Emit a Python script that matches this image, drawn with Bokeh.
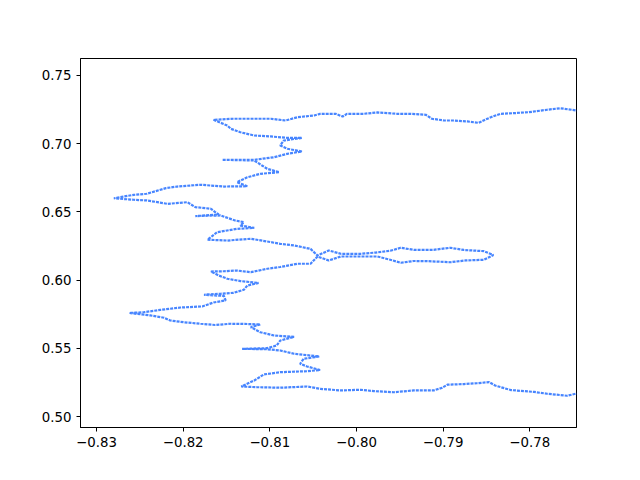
from bokeh.plotting import figure
from bokeh.models import Range1d, FixedTicker, CustomJSTickFormatter
from bokeh.embed import file_html
from bokeh.resources import INLINE

# traced boundary path
xs = [-0.7738, -0.7745, -0.7765, -0.7780, -0.7801, -0.7818, -0.7834, -0.7845, -0.7851, -0.7859,
      -0.7872, -0.7888, -0.7899, -0.7913, -0.7920, -0.7938, -0.7953, -0.7976, -0.7992, -0.8011,
      -0.8016, -0.8024, -0.8042, -0.8049, -0.8068, -0.8082, -0.8099, -0.8126, -0.8142, -0.8165,
      -0.8149, -0.8145, -0.8134, -0.8118, -0.8099, -0.8080, -0.8063, -0.8084, -0.8088, -0.8080,
      -0.8063, -0.8080, -0.8095, -0.8118, -0.8142, -0.8155, -0.8118, -0.8109, -0.8103, -0.8089,
      -0.8111, -0.8126, -0.8138, -0.8126, -0.8153, -0.8180, -0.8207, -0.8220, -0.8242, -0.8257,
      -0.8280, -0.8257, -0.8242, -0.8218, -0.8195, -0.8186, -0.8168, -0.8163, -0.8159, -0.8186,
      -0.8157, -0.8140, -0.8130, -0.8134, -0.8118, -0.8138, -0.8161, -0.8167, -0.8172, -0.8149,
      -0.8122, -0.8103, -0.8088, -0.8072, -0.8053, -0.8045,
      -0.8032, -0.8018, -0.7995, -0.7978, -0.7961, -0.7949, -0.7934, -0.7911, -0.7892, -0.7876,
      -0.7853, -0.7842, -0.7853, -0.7874, -0.7892, -0.7918, -0.7934, -0.7949, -0.7961, -0.7976,
      -0.7995, -0.8018, -0.8032, -0.8045,
      -0.8053, -0.8068, -0.8088, -0.8103, -0.8122, -0.8138, -0.8153, -0.8168, -0.8159, -0.8149,
      -0.8134, -0.8113, -0.8126, -0.8130, -0.8142, -0.8157, -0.8176, -0.8153, -0.8151, -0.8165,
      -0.8178, -0.8203, -0.8226, -0.8245, -0.8262, -0.8238, -0.8222, -0.8215, -0.8199, -0.8180,
      -0.8163, -0.8145, -0.8126, -0.8111, -0.8122, -0.8111, -0.8095, -0.8072, -0.8088, -0.8092,
      -0.8103, -0.8132, -0.8103, -0.8088, -0.8072, -0.8043, -0.8061, -0.8065, -0.8057, -0.8042,
      -0.8057, -0.8088, -0.8107, -0.8118, -0.8133,
      -0.8115, -0.8088, -0.8057, -0.8042, -0.8018, -0.7995, -0.7980, -0.7957, -0.7934, -0.7911,
      -0.7901, -0.7895, -0.7876, -0.7861, -0.7847, -0.7840, -0.7822, -0.7795, -0.7780, -0.7757,
      -0.7747, -0.7740]
ys = [0.7240, 0.7243, 0.7260, 0.7249, 0.7231, 0.7224, 0.7219, 0.7194, 0.7177, 0.7153,
      0.7163, 0.7170, 0.7170, 0.7183, 0.7212, 0.7219, 0.7219, 0.7229, 0.7219, 0.7219,
      0.7199, 0.7219, 0.7219, 0.7207, 0.7194, 0.7170, 0.7183, 0.7183, 0.7183, 0.7175,
      0.7133, 0.7109, 0.7084, 0.7060, 0.7053, 0.7043, 0.7043, 0.7023, 0.6987, 0.6963,
      0.6943, 0.6926, 0.6901, 0.6882, 0.6882, 0.6882, 0.6877, 0.6840, 0.6816, 0.6791,
      0.6779, 0.6754, 0.6718, 0.6688, 0.6686, 0.6699, 0.6686, 0.6674, 0.6633, 0.6625,
      0.6600, 0.6589, 0.6584, 0.6559, 0.6571, 0.6535, 0.6523, 0.6498, 0.6481, 0.6469,
      0.6474, 0.6437, 0.6425, 0.6400, 0.6383, 0.6376, 0.6351, 0.6320, 0.6296, 0.6290,
      0.6303, 0.6283, 0.6266, 0.6254, 0.6229, 0.6180,
      0.6217, 0.6193, 0.6193, 0.6202, 0.6215, 0.6237, 0.6222, 0.6222, 0.6237, 0.6221,
      0.6212, 0.6184, 0.6149, 0.6144, 0.6131, 0.6139, 0.6140, 0.6127, 0.6149, 0.6173,
      0.6173, 0.6173, 0.6144, 0.6173,
      0.6120, 0.6120, 0.6096, 0.6083, 0.6058, 0.6070, 0.6065, 0.6063, 0.6034, 0.6010,
      0.5993, 0.5979, 0.5960, 0.5929, 0.5907, 0.5900, 0.5892, 0.5884, 0.5851, 0.5836,
      0.5807, 0.5799, 0.5782, 0.5765, 0.5759, 0.5741, 0.5724, 0.5704, 0.5691, 0.5680,
      0.5671, 0.5680, 0.5678, 0.5675, 0.5655, 0.5618, 0.5594, 0.5584, 0.5557, 0.5521,
      0.5501, 0.5496, 0.5493, 0.5484, 0.5460, 0.5440, 0.5423, 0.5386, 0.5367, 0.5341,
      0.5332, 0.5325, 0.5308, 0.5264, 0.5220,
      0.5215, 0.5211, 0.5220, 0.5203, 0.5191, 0.5196, 0.5186, 0.5178, 0.5191, 0.5191,
      0.5211, 0.5233, 0.5238, 0.5244, 0.5252, 0.5227, 0.5194, 0.5180, 0.5167, 0.5152,
      0.5167, 0.5165]

x_ticks = [-0.83, -0.82, -0.81, -0.80, -0.79, -0.78]
y_ticks = [0.50, 0.55, 0.60, 0.65, 0.70, 0.75]

p = figure(width=632, height=472, output_backend="svg", toolbar_location=None,
           x_range=Range1d(-0.83185, -0.77461), y_range=Range1d(0.49194, 0.76246),
           min_border_left=80, min_border_top=58, min_border_right=56, min_border_bottom=45,
           frame_width=496, frame_height=369)

p.line(xs, ys, line_color="#0a5cff", line_width=2.2, line_alpha=0.75, line_dash="3 1")

p.xgrid.visible = False
p.ygrid.visible = False
p.outline_line_color = "black"
p.outline_line_width = 1
p.background_fill_color = "white"
p.border_fill_color = "white"

fmt = CustomJSTickFormatter(code="return tick.toFixed(2).replace('-', '\u2212');")
for ax, ticks in ((p.xaxis, x_ticks), (p.yaxis, y_ticks)):
    ax.ticker = FixedTicker(ticks=ticks)
    ax.formatter = fmt
    ax.axis_line_color = "black"
    ax.major_tick_line_color = "black"
    ax.major_tick_out = 4
    ax.major_tick_in = 0
    ax.minor_tick_line_color = None
    ax.major_label_text_font = "DejaVu Sans"
    ax.major_label_text_font_size = "10pt"
    ax.major_label_text_color = "black"

open("out.html", "w").write(file_html(p, INLINE))
